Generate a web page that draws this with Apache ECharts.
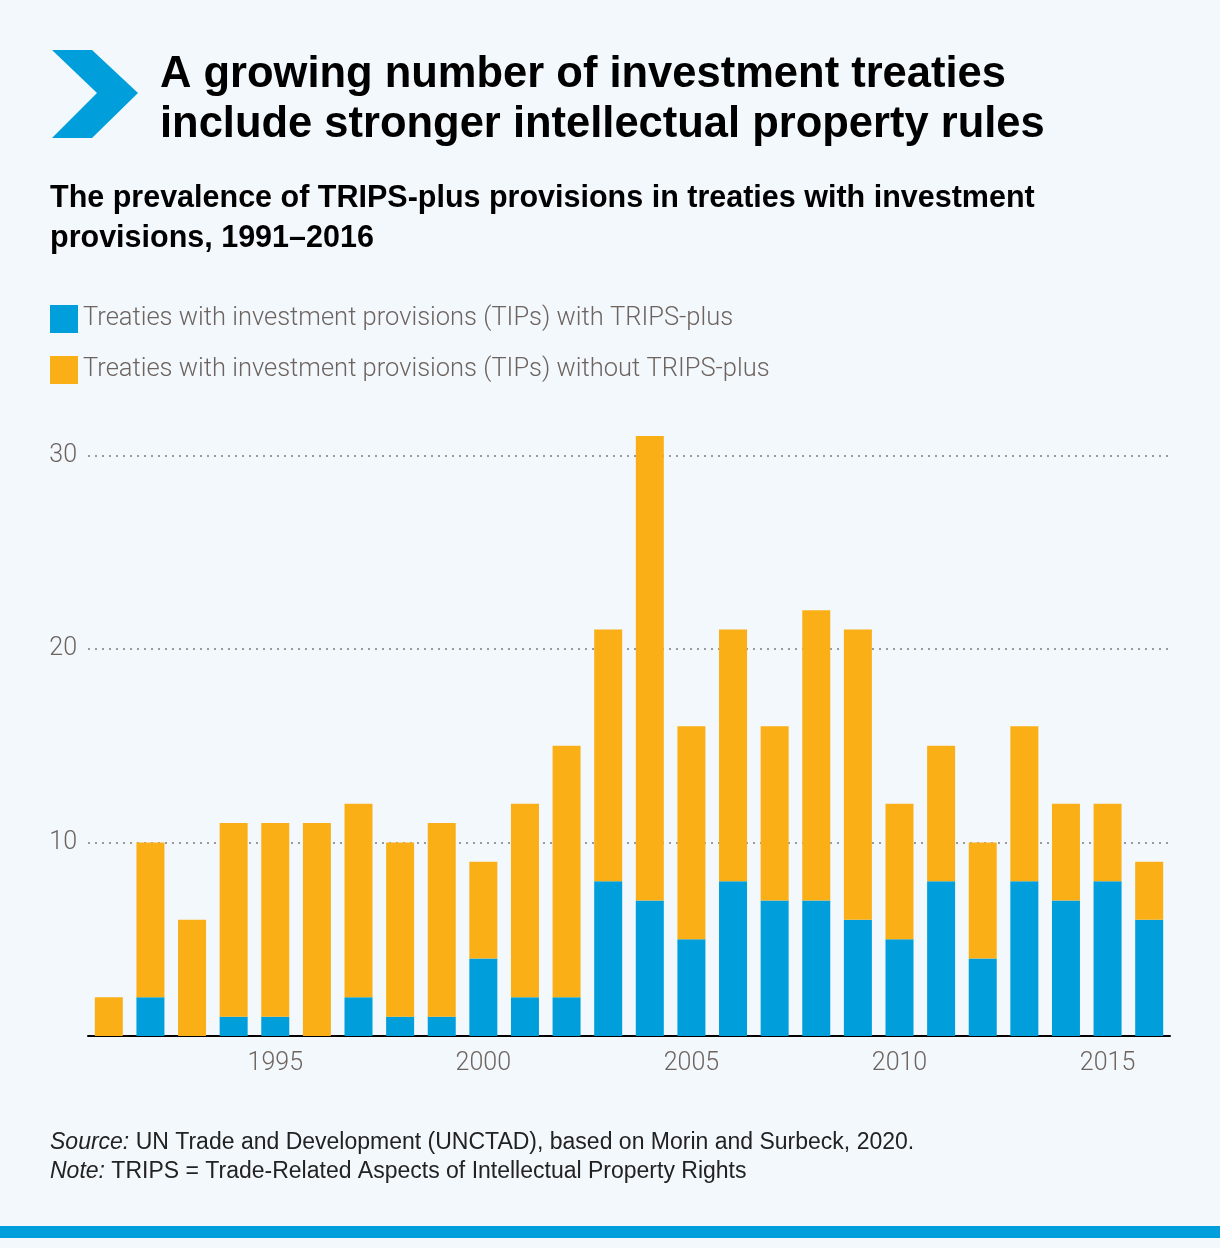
<!DOCTYPE html>
<html>
<head>
<meta charset="utf-8">
<script src="https://cdn.jsdelivr.net/npm/echarts@6/dist/echarts.min.js"></script>
<style>
  html, body { margin: 0; padding: 0; background: #f3f8fc; }
  #chart { width: 1220px; height: 1248px; }
</style>
</head>
<body>
<div id="chart"></div>
<script>
const years = ['1991', '1992', '1993', '1994', '1995', '1996', '1997', '1998', '1999', '2000',
  '2001', '2002', '2003', '2004', '2005', '2006', '2007', '2008', '2009', '2010',
  '2011', '2012', '2013', '2014', '2015', '2016']
const withTrips = [0, 2, 0, 1, 1, 0, 2, 1, 1, 4, 2, 2, 8, 7, 5, 8, 7, 7, 6, 5, 8, 4, 8, 7, 8, 6]
const withoutTrips = [2, 8, 6, 10, 10, 11, 10, 9, 10, 5, 10, 13, 13, 24, 11, 13, 9, 15, 15, 7, 7, 6, 8, 5, 4, 3]
const yTicks = [0, 10, 20, 30]

const blue = '#009edb'
const orange = '#fbaf17'
const grey = '#6d6460'
const narrow = "'Roboto', sans-serif"
const sans = "'Liberation Sans', 'Helvetica', Arial, sans-serif"

const chart = echarts.init(document.getElementById('chart'))
chart.setOption({
  backgroundColor: '#f3f8fc',
  animation: false,
  graphic: [
    {
      type: 'polygon',
      shape: { points: [[52, 50], [92, 50], [138, 93], [92, 138], [52, 138], [97, 93]] },
      style: { fill: blue }
    },
    {
      type: 'text', left: 160, top: 50,
      style: { text: 'A growing number of investment treaties\ninclude stronger intellectual property rules',
        font: 'bold 43.5px ' + sans, fill: '#000', lineHeight: 50 }
    },
    {
      type: 'text', left: 50, top: 179,
      style: { text: 'The prevalence of TRIPS-plus provisions in treaties with investment\nprovisions, 1991\u20132016',
        font: 'bold 30.5px ' + sans, fill: '#000', lineHeight: 40 }
    },
    {
      type: 'text', left: 50, top: 1128,
      style: { rich: {
          i: { font: 'italic 23px ' + sans, fill: '#222' },
          r: { font: '23px ' + sans, fill: '#222' }
        },
        text: '{i|Source:}{r| UN Trade and Development (UNCTAD), based on Morin and Surbeck, 2020.}\n{i|Note:}{r| TRIPS = Trade-Related Aspects of Intellectual Property Rights}',
        lineHeight: 29 }
    },
    {
      type: 'rect', left: 0, top: 1226,
      shape: { width: 1220, height: 12 },
      style: { fill: blue }
    }
  ],
  legend: {
    orient: 'vertical', left: 50, top: 305, padding: 0,
    itemWidth: 28, itemHeight: 28, itemGap: 23,
    icon: 'rect',
    textStyle: { fontFamily: narrow, fontWeight: 300, fontSize: 25.5, color: grey, padding: [4, 0, 0, 0] },
    data: ['Treaties with investment provisions (TIPs) with TRIPS-plus',
      'Treaties with investment provisions (TIPs) without TRIPS-plus']
  },
  grid: { left: 88, right: 50, top: 436, bottom: 212 },
  xAxis: {
    type: 'category',
    data: years,
    axisLine: { lineStyle: { color: '#000', width: 2 } },
    axisTick: { show: false },
    axisLabel: {
      interval: (i, v) => Number(v) % 5 === 0,
      color: grey, fontFamily: narrow, fontWeight: 300, fontSize: 25, margin: 15
    }
  },
  yAxis: {
    type: 'value', min: 0, max: 31, interval: 10,
    axisLine: { show: false },
    axisTick: { show: false },
    axisLabel: {
      color: grey, fontFamily: narrow, fontWeight: 300, fontSize: 25, margin: 11,
      formatter: v => (yTicks.includes(v) && v > 0 ? String(v) : ''),
      showMaxLabel: false
    },
    splitLine: {
      showMaxLine: false, showMinLine: false,
      lineStyle: { color: '#9a9a9a', type: [2, 5], width: 2 }
    }
  },
  series: [
    {
      name: 'Treaties with investment provisions (TIPs) with TRIPS-plus',
      type: 'bar', stack: 'total', barWidth: 28,
      itemStyle: { color: blue }, data: withTrips
    },
    {
      name: 'Treaties with investment provisions (TIPs) without TRIPS-plus',
      type: 'bar', stack: 'total', barWidth: 28,
      itemStyle: { color: orange }, data: withoutTrips
    }
  ]
})
</script>
</body>
</html>
